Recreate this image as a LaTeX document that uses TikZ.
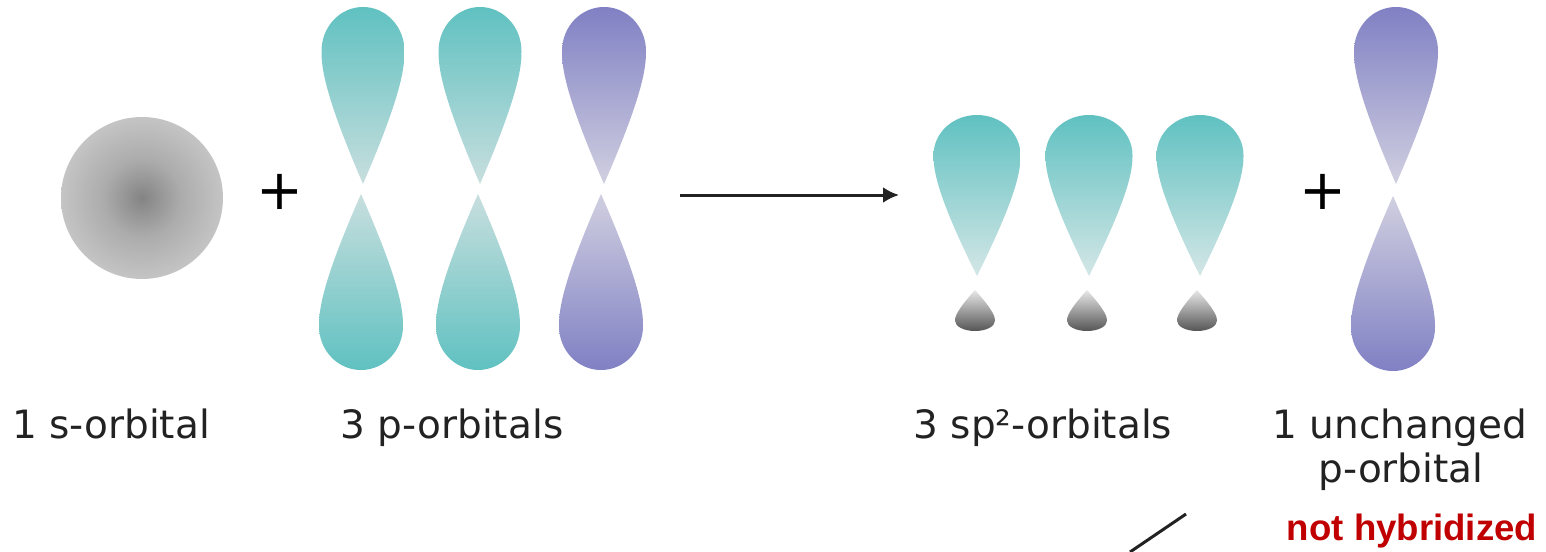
\documentclass[tikz,border=0pt]{standalone}
\usepackage{fontspec}
\setmainfont{DejaVu Sans}
\newfontfamily\boldsans{Liberation Sans}
\usetikzlibrary{arrows.meta}

% orbital colours
\definecolor{ink}{RGB}{34,34,34}
\definecolor{tealtop}{RGB}{96,193,193}
\definecolor{tealmid}{RGB}{145,206,206}
\definecolor{tealtip}{RGB}{200,222,222}
\definecolor{spmid}{RGB}{145,208,208}
\definecolor{sptip}{RGB}{212,230,230}
\definecolor{violtop}{RGB}{128,128,196}
\definecolor{violmid}{RGB}{168,166,208}
\definecolor{violtip}{RGB}{208,207,224}
\definecolor{sdark}{RGB}{132,132,132}
\definecolor{smid}{RGB}{172,172,172}
\definecolor{slight}{RGB}{213,213,213}
\definecolor{grtop}{RGB}{232,232,232}
\definecolor{grbot}{RGB}{85,85,85}
\definecolor{alert}{RGB}{192,0,0}

\pgfdeclareradialshading{sglow}{\pgfpoint{0bp}{0bp}}{color(0bp)=(sdark); color(12bp)=(smid); color(34bp)=(slight); color(50bp)=(slight)}

% teardrop lobe: tip at (#1,#2), width #3, signed length #4
\newcommand\lobe[4]{(#1,#2) .. controls ({#1-0.47*#3},{#2+0.51*#4}) and ({#1-0.5*#3},{#2+0.66*#4}) .. ({#1-0.5*#3},{#2+0.75*#4}) .. controls ({#1-0.5*#3},{#2+0.89*#4}) and ({#1-0.275*#3},{#2+#4}) .. ({#1},{#2+#4}) .. controls ({#1+0.275*#3},{#2+#4}) and ({#1+0.5*#3},{#2+0.89*#4}) .. ({#1+0.5*#3},{#2+0.75*#4}) .. controls ({#1+0.5*#3},{#2+0.66*#4}) and ({#1+0.47*#3},{#2+0.51*#4}) .. (#1,#2) -- cycle}

\tikzset{
  lbl/.style={font=\fontsize{19.5}{22}\selectfont, text=ink, anchor=base, inner sep=0pt},
  plus/.style={font=\fontsize{28}{30}\selectfont, text=black, inner sep=0pt, anchor=center},
  tealup/.style={top color=tealtop, middle color=tealmid, bottom color=tealtip},
  tealdown/.style={top color=tealtip, middle color=tealmid, bottom color=tealtop},
  violup/.style={top color=violtop, middle color=violmid, bottom color=violtip},
  violdown/.style={top color=violtip, middle color=violmid, bottom color=violtop},
  spup/.style={top color=tealtop, middle color=spmid, bottom color=sptip},
  grdown/.style={top color=grtop, bottom color=grbot},
  connector/.style={line width=1.5pt, draw=ink}
}

\begin{document}
\begin{tikzpicture}[x=0.5pt,y=-0.5pt]
\useasboundingbox (0,0) rectangle (1546,551);

% s orbital
\shade[shading=sglow] (142,198) circle[radius=81];
\node[plus] (plus1) at (280,192) {+};

% three p orbitals
\shade[tealup]   \lobe{363}{184}{83}{-177};
\shade[tealdown] \lobe{361}{194}{84}{176};
\shade[tealup]   \lobe{480}{184}{83}{-177};
\shade[tealdown] \lobe{478}{194}{84}{176};
\shade[violup]   \lobe{604}{184}{84}{-177};
\shade[violdown] \lobe{601}{194}{84}{176};

% reaction arrow
\coordinate (react) at (680,195);
\coordinate (prod) at (899,195);
\draw[connector, -{Latex[length=8pt,width=8pt]}] (react) -- (prod);

% three sp2 orbitals
\shade[spup]   \lobe{977}{276}{87}{-161};
\shade[grdown] \lobe{975}{290}{40}{41};
\shade[spup]   \lobe{1089}{276}{87}{-161};
\shade[grdown] \lobe{1087}{290}{40}{41};
\shade[spup]   \lobe{1200}{276}{87}{-161};
\shade[grdown] \lobe{1197}{290}{40}{41};

\node[plus] (plus2) at (1323,192) {+};

% unchanged p orbital
\shade[violup]   \lobe{1396}{184}{84}{-177};
\shade[violdown] \lobe{1393}{196}{84}{175};

% labels
\node[lbl] (slbl) at (111,438) {1 s-orbital};
\node[lbl] (plbl) at (452,438) {3 p-orbitals};
\node[lbl] (splbl) at (1043,438) {3 sp²-orbitals};
\node[lbl] (ulbl1) at (1400,438) {1 unchanged};
\node[lbl] (ulbl2) at (1401,482) {p-orbital};
\node[font=\boldsans\bfseries\fontsize{18.3}{20}\selectfont, text=alert, anchor=base, inner sep=0pt] (nothyb) at (1412,540) {not hybridized};

% pointer line running off the lower edge
\coordinate (stubtop) at (1186,514);
\coordinate (stubend) at (1130,552);
\draw[connector] (stubend) -- (stubtop);
\end{tikzpicture}
\end{document}
